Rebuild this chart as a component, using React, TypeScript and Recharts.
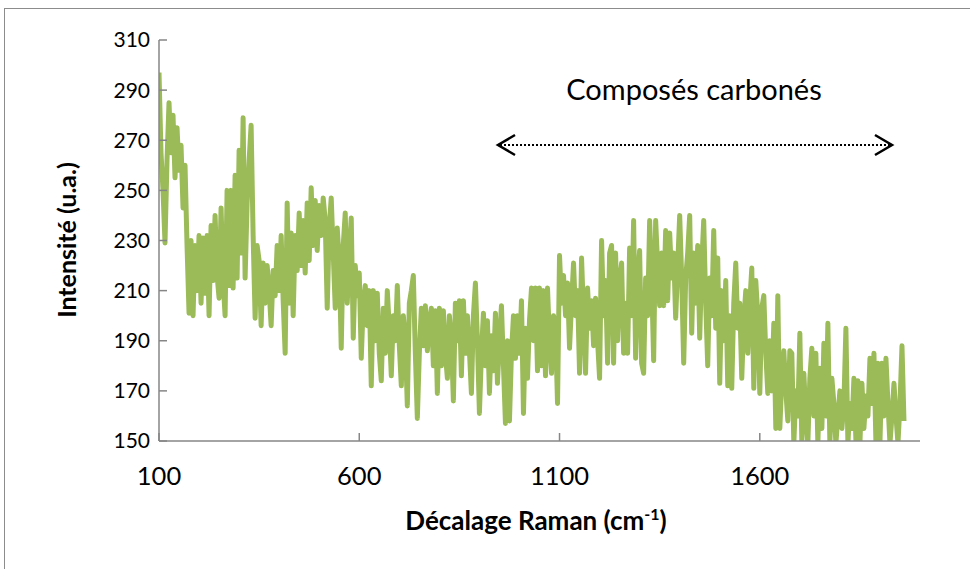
import { LineChart, Line, XAxis, YAxis } from "recharts"

// Raman spectrum, one reading every 5 cm-1 starting at 100 cm-1
const SHIFT_START = 100
const SHIFT_STEP = 5

const intensity = [
  297, 265, 250, 229, 262, 285, 265, 280, 255, 275, 258, 268, 243, 260, 228, 201, 230, 200, 228, 210,
  232, 205, 231, 209, 232, 200, 236, 214, 240, 216, 207, 243, 214, 200, 250, 212, 250, 211, 256, 215,
  266, 225, 279, 215, 245, 262, 276, 232, 199, 228, 222, 196, 221, 205, 220, 210, 196, 218, 208, 228,
  210, 232, 206, 185, 245, 205, 233, 200, 232, 218, 241, 220, 238, 217, 245, 222, 251, 228, 246, 226,
  244, 232, 247, 238, 203, 235, 247, 225, 203, 235, 222, 187, 228, 241, 205, 225, 239, 191, 220, 208,
  217, 183, 205, 212, 196, 210, 172, 210, 190, 209, 185, 174, 203, 185, 210, 195, 176, 200, 190, 212,
  188, 172, 200, 190, 164, 205, 210, 216, 185, 159, 185, 203, 188, 204, 186, 198, 203, 180, 202, 169,
  203, 180, 202, 185, 175, 200, 190, 166, 205, 190, 206, 176, 206, 185, 200, 186, 169, 200, 213, 190,
  161, 185, 201, 180, 198, 169, 192, 178, 201, 173, 190, 204, 180, 157, 190, 158, 185, 200, 183, 200,
  185, 206, 161, 195, 175, 198, 211, 190, 211, 178, 211, 180, 210, 176, 211, 190, 177, 200, 195, 165,
  224, 205, 216, 200, 213, 187, 205, 221, 200, 210, 177, 223, 200, 177, 211, 195, 206, 188, 207, 190,
  175, 230, 200, 214, 181, 225, 228, 181, 225, 190, 214, 221, 185, 205, 185, 227, 200, 238, 183, 215,
  226, 181, 177, 215, 200, 238, 215, 182, 238, 220, 204, 225, 204, 234, 206, 233, 215, 225, 199, 220,
  240, 215, 181, 215, 225, 240, 193, 225, 205, 228, 191, 220, 238, 205, 180, 215, 200, 234, 195, 223,
  173, 210, 190, 214, 172, 200, 171, 205, 221, 195, 205, 175, 198, 210, 185, 205, 219, 171, 214, 200,
  169, 203, 208, 185, 169, 190, 170, 197, 155, 208, 155, 175, 186, 170, 158, 186, 185, 149, 170, 160,
  193, 149, 177, 160, 149, 175, 187, 160, 185, 149, 179, 155, 189, 160, 197, 149, 175, 165, 149, 160,
  170, 155, 165, 195, 149, 165, 155, 175, 150, 174, 149, 173, 155, 168, 160, 183, 165, 185, 149, 181,
  149, 181, 160, 183, 165, 149, 160, 173, 160, 149, 165, 188, 158,
]

const xTicks = [100, 600, 1100, 1600]
const yTicks = [150, 170, 190, 210, 230, 250, 270, 290, 310]

const data = intensity.map((v, i) => ({ shift: SHIFT_START + i * SHIFT_STEP, value: v }))

const font = "Lato, 'Open Sans', sans-serif"
const axisColor = "#868686"

export default function App() {
  return (
    <div
      style={{
        position: "absolute",
        left: 0,
        top: 0,
        width: 970,
        height: 569,
        overflow: "hidden",
        background: "white",
        fontFamily: font,
      }}
    >
      <div
        style={{
          position: "absolute",
          left: 4,
          top: 8,
          width: 1000,
          height: 600,
          border: "1.5px solid #8c8c8c",
        }}
      />
      <LineChart
        width={970}
        height={569}
        data={data}
        margin={{ top: 40, right: 50, bottom: 68, left: 99 }}
        style={{ fontFamily: font }}
      >
        <XAxis
          dataKey="shift"
          type="number"
          domain={[100, 2000]}
          ticks={xTicks}
          allowDataOverflow
          height={60}
          stroke={axisColor}
          strokeWidth={1.5}
          tickSize={-8}
          tickMargin={34}
          tick={{ fontSize: 25.5, fill: "#000", fontFamily: font }}
        />
        <YAxis
          type="number"
          domain={[150, 310]}
          ticks={yTicks}
          allowDataOverflow
          width={60}
          stroke={axisColor}
          strokeWidth={1.5}
          tickSize={-8}
          tickMargin={17}
          tick={{ fontSize: 21, fill: "#000", fontFamily: font }}
        />
        <Line
          type="linear"
          dataKey="value"
          stroke="#9bbb59"
          strokeWidth={5}
          strokeLinejoin="round"
          dot={false}
          isAnimationActive={false}
        />
      </LineChart>
      <svg width={970} height={569} style={{ position: "absolute", left: 0, top: 0, pointerEvents: "none" }}>
        <text
          transform="translate(66,240) rotate(-90)"
          textAnchor="middle"
          dominantBaseline="central"
          fontFamily={font}
          fontWeight="bold"
          fontSize={25}
          fill="#000"
        >
          Intensité (u.a.)
        </text>
        <text x={536} y={530} textAnchor="middle" fontFamily={font} fontWeight="bold" fontSize={26} fill="#000">
          Décalage Raman (cm
          <tspan fontSize={16} dy={-10}>-1</tspan>
          <tspan dy={10}>)</tspan>
        </text>
        <text x={694} y={100} textAnchor="middle" fontFamily={font} fontSize={29} fill="#000">
          Composés carbonés
        </text>
        <line x1={500} y1={145} x2={890} y2={145} stroke="#000" strokeWidth={2} strokeDasharray="2 2" />
        <polyline points="515,135 498,145 515,155" fill="none" stroke="#000" strokeWidth={2.5} />
        <polyline points="875,135 892,145 875,155" fill="none" stroke="#000" strokeWidth={2.5} />
      </svg>
    </div>
  )
}
